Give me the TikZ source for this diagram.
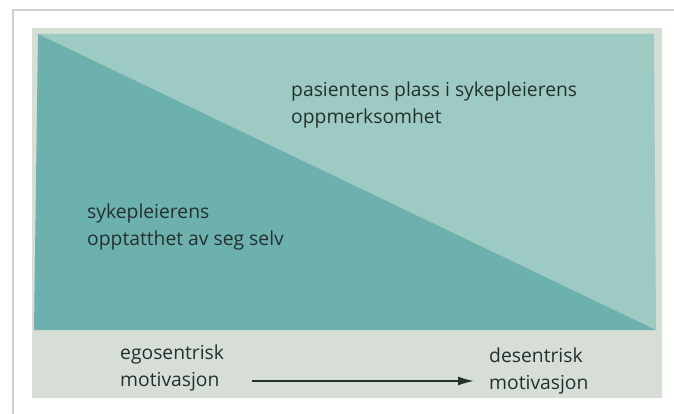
\documentclass[tikz,border=0pt]{standalone}
\usepackage{fontspec}
\setmainfont{Open Sans}
\usetikzlibrary{arrows.meta}
\definecolor{darkteal}{HTML}{6DB1AE}
\definecolor{lightteal}{HTML}{9ECAC4}
\definecolor{panel}{HTML}{D6DED6}
\definecolor{ink}{HTML}{25302E}
\tikzset{
  lbl/.style={anchor=west, align=left, text=ink, inner sep=0pt, font=\fontsize{19.3}{27.5}\selectfont},
}
\begin{document}
\begin{tikzpicture}[x=1pt,y=-1pt]
\useasboundingbox (0,0) rectangle (674,414);
\fill[white] (0,0) rectangle (674,414);
% card
\draw[black!18, line width=1.2pt] (13,414) -- (13,10) -- (674,10);
% panel
\fill[panel] (32,28) rectangle (662,398);
% teal rectangle split by diagonal
\fill[lightteal] (38,34) -- (654,34) -- (656,330) -- cycle;
\fill[darkteal] (38,34) -- (656,330) -- (34,330) -- cycle;
% labels
\node[lbl] (top) at (291,105) {pasientens plass i sykepleierens\\oppmerksomhet};
\node[lbl] (left) at (87,227) {sykepleierens\\opptatthet av seg selv};
\node[lbl] (ego) at (120,368) {egosentrisk\\motivasjon};
\node[lbl] (des) at (489,371) {desentrisk\\motivasjon};
\coordinate (a0) at (252,381);
\coordinate (a1) at (474,381);
\draw[ink, line width=1.6pt, -{Latex[length=16pt,width=9pt]}] (a0) -- (a1);
\end{tikzpicture}
\end{document}
